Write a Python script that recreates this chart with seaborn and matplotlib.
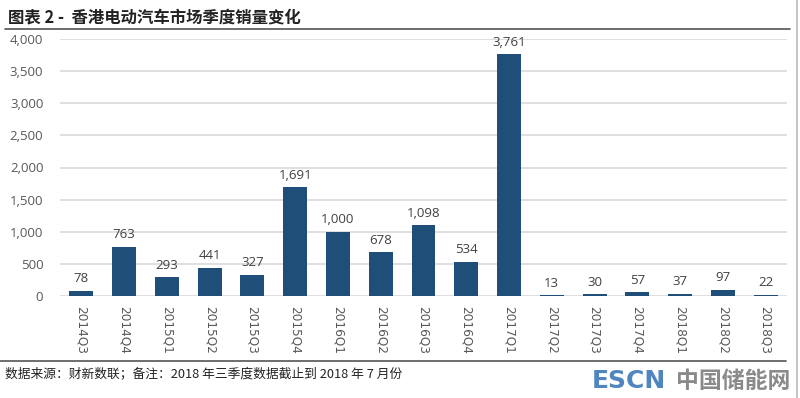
import matplotlib
matplotlib.use("Agg")
import matplotlib.pyplot as plt
import seaborn as sns
import pandas as pd
from matplotlib.lines import Line2D

quarters = ["2014Q3", "2014Q4", "2015Q1", "2015Q2", "2015Q3", "2015Q4", "2016Q1", "2016Q2",
            "2016Q3", "2016Q4", "2017Q1", "2017Q2", "2017Q3", "2017Q4", "2018Q1", "2018Q2", "2018Q3"]
sales = [78, 763, 293, 441, 327, 1691, 1000, 678, 1098, 534, 3761, 13, 30, 57, 37, 97, 22]
yticks = [0, 500, 1000, 1500, 2000, 2500, 3000, 3500, 4000]

title = "图表 2 -  香港电动汽车市场季度销量变化"
footer = "数据来源：财新数联；备注：2018 年三季度数据截止到 2018 年 7 月份"

sns.set_theme(style="white")
plt.rcParams['font.family'] = ['Noto Sans CJK SC', 'DejaVu Sans']

df = pd.DataFrame({"quarter": quarters, "sales": sales})

W, H = 800, 398
fig = plt.figure(figsize=(8, 3.98), dpi=100)
ax = fig.add_axes([60 / W, 1 - 296 / H, (787 - 60) / W, (296 - 39) / H])

sns.barplot(data=df, x="quarter", y="sales", color="#1F4E79", width=0.56, ax=ax,
            saturation=1, edgecolor="none")

ax.set_ylim(0, 4000)
ax.set_xlim(-0.5, 16.5)
ax.set_yticks(yticks)
ax.set_yticklabels([f"{v:,}" for v in yticks], fontsize=9.5, color="#595959",
                   family=['Open Sans', 'DejaVu Sans'])
ax.yaxis.grid(True, color="#d9d9d9", linewidth=1.2)
ax.set_axisbelow(True)
for s in ax.spines.values():
    s.set_visible(False)
ax.tick_params(axis='y', length=0, pad=12)
ax.tick_params(axis='x', length=0, pad=7)
ax.set_xticks(range(len(quarters)))
ax.set_xticklabels(quarters, rotation=270, fontsize=8.7, color="#595959",
                   family=['DejaVu Sans'], va='top', ha='center')
ax.set_xlabel("")
ax.set_ylabel("")

for i, v in enumerate(sales):
    ax.annotate(f"{v:,}", (i, v), xytext=(0, 4), textcoords="offset points",
                ha="center", va="bottom", fontsize=9.5, color="#404040",
                family=['Open Sans', 'DejaVu Sans'])

# Title and rules
fig.text(8 / W, 1 - 17 / H, title, fontsize=11.8, fontweight="bold", color="#222222",
         va="center", ha="left")
fig.add_artist(Line2D([5 / W, 790 / W], [1 - 29 / H, 1 - 29 / H], color="#555555", lw=1.2))
fig.add_artist(Line2D([0, 786 / W], [1 - 361 / H, 1 - 361 / H], color="#555555", lw=1.2))
fig.add_artist(Line2D([797 / W, 797 / W], [0, 1], color="#bbbbbb", lw=1.2))

fig.text(5 / W, 1 - 375 / H, footer, fontsize=9.2, color="#222222", va="center", ha="left")

# watermark
fig.text(592 / W, 1 - 381 / H, "ESCN", fontsize=18, fontweight="bold", color="#4F86C0",
         va="center", ha="left", family=['DejaVu Sans'])
fig.text(790 / W, 1 - 381 / H, "中国储能网", fontsize=16.5, fontweight="bold", color="#8a8a8a",
         va="center", ha="right")

fig.savefig("out.png", dpi=100)
